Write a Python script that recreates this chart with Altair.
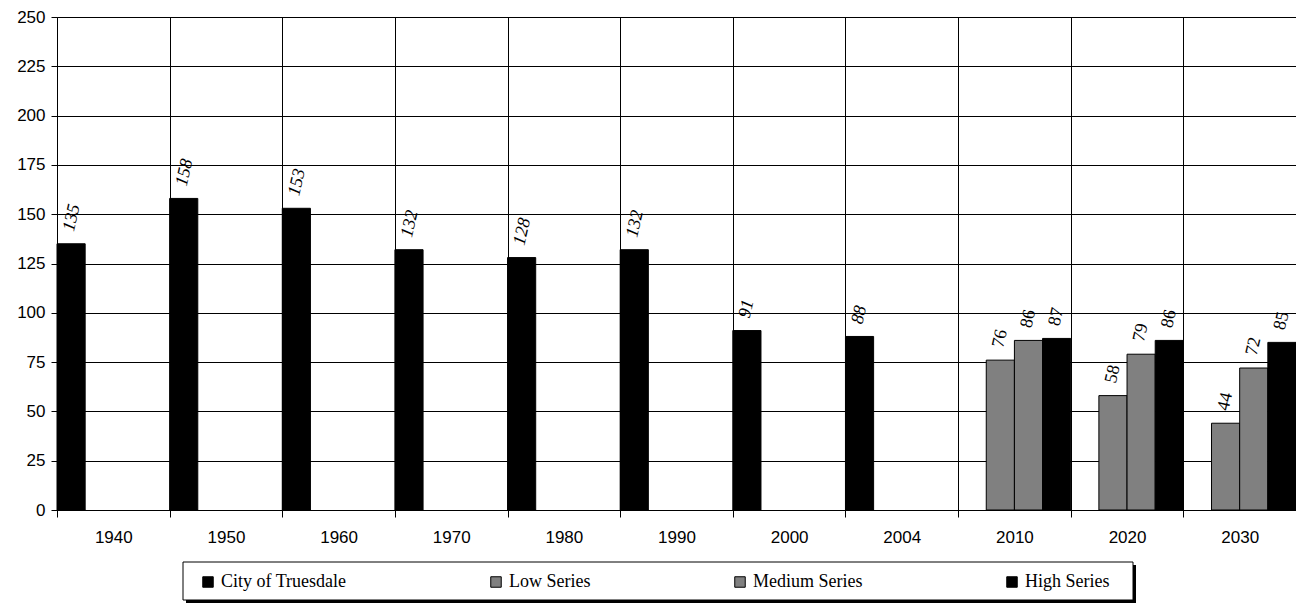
import altair as alt
import pandas as pd

years = ["1940", "1950", "1960", "1970", "1980", "1990", "2000", "2004", "2010", "2020", "2030"]
series = ["City of Truesdale", "Low Series", "Medium Series", "High Series"]
series_colors = ["#000000", "#808080", "#808080", "#000000"]

city_years = ["1940", "1950", "1960", "1970", "1980", "1990", "2000", "2004"]
city_values = [135, 158, 153, 132, 128, 132, 91, 88]

proj_years = ["2010", "2020", "2030"]
low_values = [76, 58, 44]
medium_values = [86, 79, 72]
high_values = [87, 86, 85]

y_ticks = [0, 25, 50, 75, 100, 125, 150, 175, 200, 225, 250]

rows = []
for yr, v in zip(city_years, city_values):
    rows.append({"year": yr, "series": "City of Truesdale", "value": v})
for name, vals in [("Low Series", low_values), ("Medium Series", medium_values), ("High Series", high_values)]:
    for yr, v in zip(proj_years, vals):
        rows.append({"year": yr, "series": name, "value": v})
df = pd.DataFrame(rows)

base = alt.Chart(df)

x_enc = alt.X("year:N", sort=years,
              scale=alt.Scale(domain=years, paddingInner=0, paddingOuter=0),
              axis=alt.Axis(title=None, labelAngle=0, tickBand="extent", grid=True,
                            gridColor="#000000", gridWidth=1, tickColor="#000000",
                            tickSize=7, domainColor="#000000", domainWidth=1,
                            labelFont="Liberation Sans", labelFontSize=17,
                            labelColor="#000000", labelPadding=12))
xo_enc = alt.XOffset("series:N", sort=series,
                     scale=alt.Scale(domain=series, paddingInner=0, paddingOuter=0))
y_enc = alt.Y("value:Q", scale=alt.Scale(domain=[0, 250], nice=False),
              axis=alt.Axis(title=None, values=y_ticks, grid=True, gridColor="#000000",
                            gridWidth=1, tickColor="#000000", tickSize=6,
                            domainColor="#000000", labelFont="Liberation Sans",
                            labelFontSize=17, labelColor="#000000", labelPadding=6))

bars = base.mark_bar(stroke="#000000", strokeWidth=1).encode(
    x=x_enc, xOffset=xo_enc, y=y_enc,
    color=alt.Color("series:N", sort=series,
                    scale=alt.Scale(domain=series, range=series_colors),
                    legend=alt.Legend(title=None, orient="none", legendX=126, legendY=545,
                                      direction="horizontal", columns=4, columnPadding=135,
                                      symbolType="square", symbolSize=110,
                                      symbolStrokeColor="#000000", symbolStrokeWidth=1,
                                      symbolOffset=5, labelOffset=4,
                                      labelFont="Liberation Serif", labelFontSize=18,
                                      labelColor="#000000", padding=11,
                                      labelLimit=400)),
)

label_common = dict(angle=283, align="left", baseline="middle", dx=12, dy=-5,
                    font="Liberation Serif", fontSize=18, color="#000000")

labels_city = base.transform_filter(alt.datum.series == "City of Truesdale").mark_text(
    fontStyle="italic", **label_common).encode(
    x=alt.X("year:N", sort=years), xOffset=alt.XOffset("series:N", sort=series),
    y="value:Q", text="value:Q")

labels_proj = base.transform_filter(alt.datum.series != "City of Truesdale").mark_text(
    **label_common).encode(
    x=alt.X("year:N", sort=years), xOffset=alt.XOffset("series:N", sort=series),
    y="value:Q", text="value:Q")

one = pd.DataFrame({"a": [0]})
shadow = alt.Chart(one).mark_rect(fill="#000000").encode(
    x=alt.value(129), x2=alt.value(1079), y=alt.value(548), y2=alt.value(586))
box = alt.Chart(one).mark_rect(fill="#ffffff", stroke="#000000", strokeWidth=1).encode(
    x=alt.value(126), x2=alt.value(1076), y=alt.value(545), y2=alt.value(583))

chart = alt.layer(shadow, box, bars, labels_city, labels_proj).properties(
    width=1239, height=493,
    padding={"left": 57, "top": 17, "right": 0, "bottom": 97},
    autosize=alt.AutoSizeParams(type="none"),
).configure_view(stroke=None).configure(background="#ffffff")

chart.save("out.html", embed_options={"renderer": "svg", "actions": False})
